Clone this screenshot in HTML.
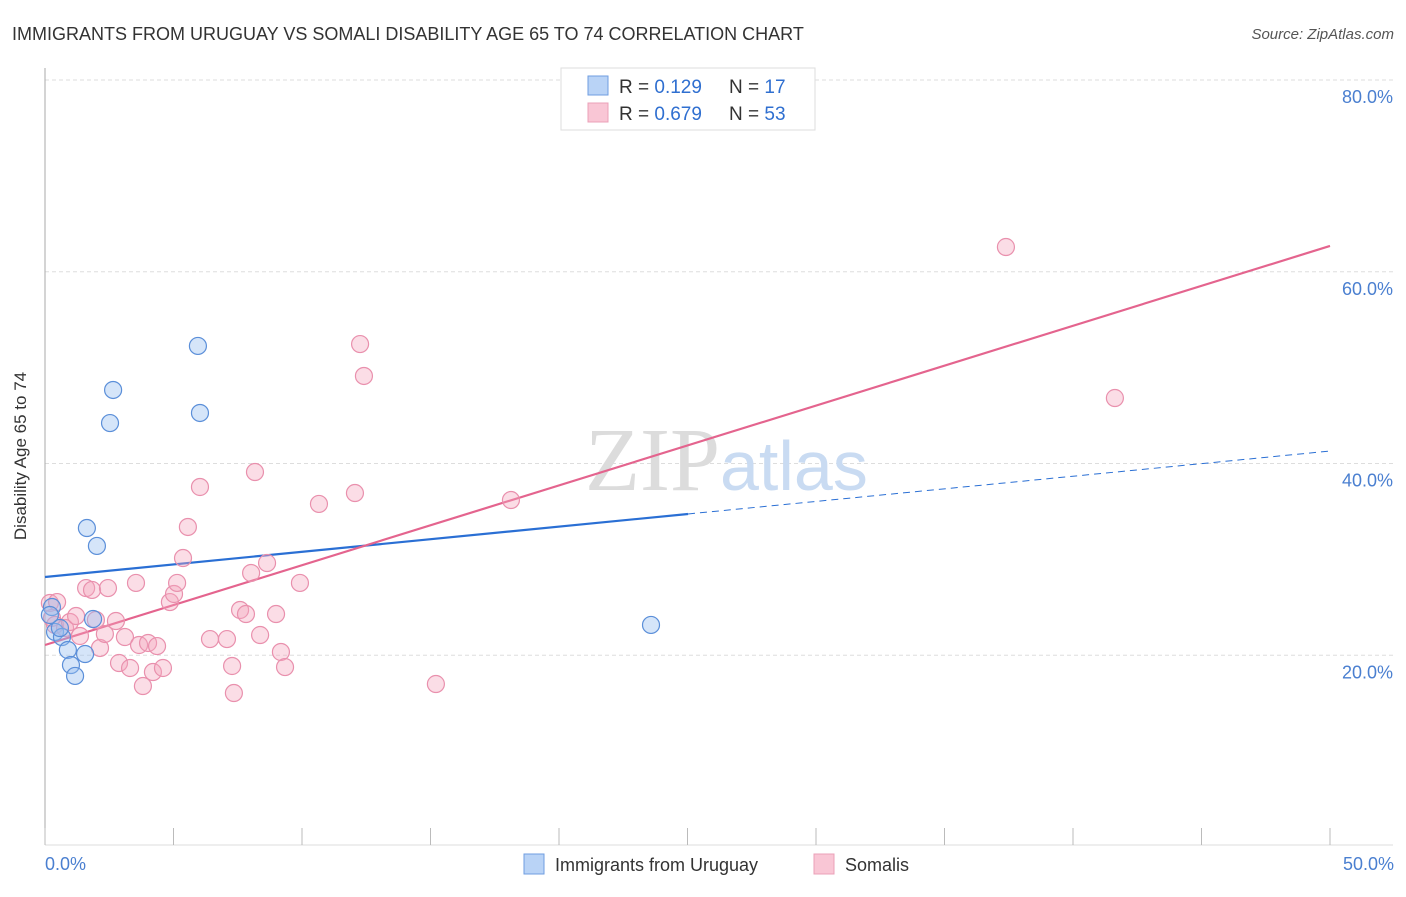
<!DOCTYPE html>
<html><head><meta charset="utf-8"><style>
body{margin:0;background:#fff;font-family:"Liberation Sans",sans-serif}
</style></head><body>
<svg width="1406" height="892" viewBox="0 0 1406 892" xmlns="http://www.w3.org/2000/svg" font-family="Liberation Sans, sans-serif">
<text x="12" y="40" font-size="18" fill="#333">IMMIGRANTS FROM URUGUAY VS SOMALI DISABILITY AGE 65 TO 74 CORRELATION CHART</text>
<text x="1394" y="39" font-size="15" fill="#555" text-anchor="end" font-style="italic">Source: ZipAtlas.com</text>
<g id="grid"></g>
<text x="720" y="490" font-size="90" fill="#dcdcdc" text-anchor="end" font-family="Liberation Serif, serif">ZIP</text>
<text x="720" y="490" font-size="70" fill="#c9dbf2">atlas</text>
<line x1="45" y1="68" x2="45" y2="845" stroke="#aaa"/>
<line x1="45" y1="845" x2="1393" y2="845" stroke="#ddd"/>
<g id="ticks"></g>
<g id="lines"></g>
<g id="points"></g>
<text x="26" y="456" font-size="17" fill="#333" text-anchor="middle" transform="rotate(-90 26 456)">Disability Age 65 to 74</text>
<text x="45" y="870" font-size="18" fill="#4a7fd0">0.0%</text>
<text x="1394" y="870" font-size="18" fill="#4a7fd0" text-anchor="end">50.0%</text>
<g>
<rect x="561" y="68" width="254" height="62" fill="#fff" stroke="#ddd"/>
<rect x="588" y="76" width="20" height="19" fill="#b9d3f6" stroke="#6f9ee0"/>
<rect x="588" y="103" width="20" height="19" fill="#f9c6d5" stroke="#eba0b8"/>
<text x="619" y="93" font-size="19" fill="#333">R = <tspan fill="#2f6fd0">0.129</tspan><tspan x="729">N = </tspan><tspan fill="#2f6fd0">17</tspan></text>
<text x="619" y="120" font-size="19" fill="#333">R = <tspan fill="#2f6fd0">0.679</tspan><tspan x="729">N = </tspan><tspan fill="#2f6fd0">53</tspan></text>
</g>
<g>
<rect x="524" y="854" width="20" height="20" fill="#b9d3f6" stroke="#6f9ee0"/>
<text x="555" y="871" font-size="18" fill="#333">Immigrants from Uruguay</text>
<rect x="814" y="854" width="20" height="20" fill="#f9c6d5" stroke="#eba0b8"/>
<text x="845" y="871" font-size="18" fill="#333">Somalis</text>
</g>
</svg>
<script>
const yTicks=[20,40,60,80];
const yTickLabels=["20.0%","40.0%","60.0%","80.0%"];
const xTicks=[0,5,10,15,20,25,30,35,40,45,50];
const blueX=[0.27,0.39,0.66,0.58,0.89,1.01,1.17,1.56,1.63,2.02,1.87,2.53,2.65,5.95,6.03,23.58,0.19];
const blueY=[25.03,22.43,21.90,22.84,20.55,18.98,17.84,20.13,33.27,31.40,23.78,44.22,47.67,52.26,45.27,23.16,24.20];
const pinkX=[0.19,0.47,0.27,0.39,0.78,0.97,1.21,1.36,1.60,1.83,1.98,2.14,2.33,2.45,2.76,2.88,3.11,3.31,3.54,3.66,3.81,4.01,4.20,4.36,4.59,4.86,5.02,5.14,5.37,5.56,6.03,6.42,7.08,7.28,7.35,7.59,7.82,8.02,8.17,8.37,8.64,8.99,9.18,9.34,9.92,10.66,12.06,12.26,12.41,15.21,18.13,37.39,41.63];
const pinkY=[25.45,25.55,23.89,23.16,22.84,23.47,24.09,22.01,27.01,26.81,23.68,20.76,22.22,27.01,23.57,19.19,21.90,18.67,27.54,21.07,16.79,21.28,18.25,20.96,18.67,25.55,26.39,27.54,30.14,33.38,37.55,21.69,21.69,18.88,16.06,24.72,24.30,28.58,39.11,22.11,29.62,24.30,20.34,18.77,27.54,35.78,36.92,52.46,49.13,17.00,36.19,62.58,46.83];
const blueFit=[28.16,41.30]; const blueSolidEnd=25.02;
const pinkFit=[21.07,62.69];
const NS="http://www.w3.org/2000/svg";
const sx=v=>45+v*25.7, sy=v=>847-v*9.5875;
function mk(t,a,p){const e=document.createElementNS(NS,t);for(const k in a)e.setAttribute(k,a[k]);document.getElementById(p).appendChild(e);return e;}
yTicks.forEach((t,i)=>{
 const l=mk('line',{x1:45,x2:1393,y1:sy(t),y2:sy(t),stroke:'#ddd','stroke-dasharray':'4,3'},'grid');
 
 
 const tx=mk('text',{x:1393,y:sy(t)+23,'font-size':18,fill:'#4a7fd0','text-anchor':'end'},'grid');
 tx.textContent=yTickLabels[i];
 
 
});
xTicks.forEach(t=>{
 const l=mk('line',{x1:sx(t),x2:sx(t),y1:828,y2:845,stroke:'#bbb'},'ticks');
 
 
});
let b1=mk('line',{x1:sx(0),y1:sy(blueFit[0]),x2:sx(blueSolidEnd),y2:sy(blueFit[0]+(blueFit[1]-blueFit[0])*blueSolidEnd/50),stroke:'#2a6fd4','stroke-width':2.2},'lines');


let b2=mk('line',{x1:sx(blueSolidEnd),y1:sy(blueFit[0]+(blueFit[1]-blueFit[0])*blueSolidEnd/50),x2:sx(50),y2:sy(blueFit[1]),stroke:'#2a6fd4','stroke-width':1,'stroke-dasharray':'7,5'},'lines');


let p1=mk('line',{x1:sx(0),y1:sy(pinkFit[0]),x2:sx(50),y2:sy(pinkFit[1]),stroke:'#e4648e','stroke-width':2.2},'lines');


pinkX.forEach((x,i)=>{
 const c=mk('circle',{cx:sx(x),cy:sy(pinkY[i]),r:8.5,fill:'rgba(245,165,190,0.38)',stroke:'#e990ad','stroke-width':1.2},'points');
 
 
});
blueX.forEach((x,i)=>{
 const c=mk('circle',{cx:sx(x),cy:sy(blueY[i]),r:8.5,fill:'rgba(150,190,240,0.4)',stroke:'#5b8fd9','stroke-width':1.2},'points');
 
 
});
</script>
</body></html>
